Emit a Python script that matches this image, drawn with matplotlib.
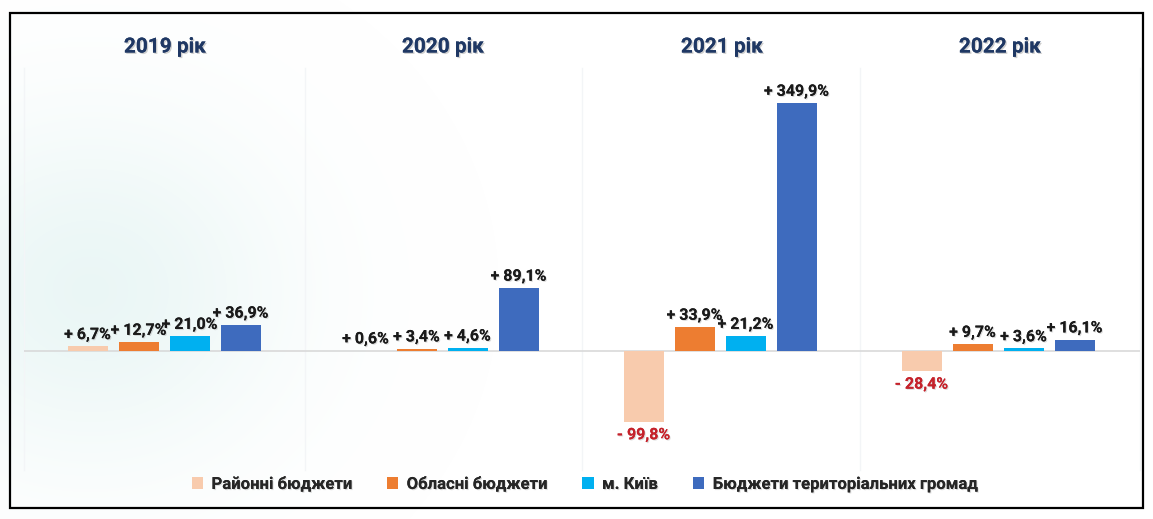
import numpy as np
import matplotlib.pyplot as plt
import matplotlib.patheffects as pe
from matplotlib.patches import Rectangle, Patch

plt.rcParams['font.family'] = ['Roboto', 'DejaVu Sans']

W, H = 1153, 519

years = ["2019 рік", "2020 рік", "2021 рік", "2022 рік"]
series = ["Районні бюджети", "Обласні бюджети", "м. Київ",
          "Бюджети територіальних громад"]
colors = ["#F8CBAD", "#ED7D31", "#00B0F0", "#3E6BBE"]

raion = [6.7, 0.6, -99.8, -28.4]
oblast = [12.7, 3.4, 33.9, 9.7]
kyiv = [21.0, 4.6, 21.2, 3.6]
hromady = [36.9, 89.1, 349.9, 16.1]
values = [raion, oblast, kyiv, hromady]


def px(x, y):
    # pixel position (from top-left) -> figure fraction
    return x / W, 1 - y / H


fig = plt.figure(figsize=(W / 100, H / 100), dpi=100)

# faint decorative haze in the background
bg = fig.add_axes([0, 0, 1, 1], zorder=0)
bg.set_xlim(0, W)
bg.set_ylim(H, 0)
bg.axis("off")
yy, xx = np.mgrid[0:H, 0:W]
haze = np.exp(-(((xx - 90) / 190.0) ** 2 + ((yy - 290) / 170.0) ** 2))
rgba = np.zeros((H, W, 4))
rgba[..., 0] = 0.80
rgba[..., 1] = 0.92
rgba[..., 2] = 0.91
rgba[..., 3] = 0.40 * haze
bg.imshow(rgba, extent=(0, W, H, 0), interpolation="bilinear")

# faint panel separators
for xs in [24, 305, 582, 860, 1140]:
    bg.plot([xs, xs], [68, 470], color="#F3F5F7", lw=1.0)

# bar area
left, top, right, bottom = 24, 80, 1140, 450
zero_y = 351
scale = 248 / 349.9  # px per percent
ax = fig.add_axes([left / W, 1 - bottom / H, (right - left) / W, (bottom - top) / H],
                  zorder=2)
ax.patch.set_alpha(0)
group_step = 278.0
x0 = (164 - left) / group_step
ax.set_xlim(-x0, -x0 + (right - left) / group_step)
ax.set_ylim(-(bottom - zero_y) / scale, (zero_y - top) / scale)
ax.axis("off")
ax.axhline(0, color="#D9D9D9", lw=1.2, zorder=1)

bar_step = 51 / group_step
bar_w = 40 / group_step
shadow = [pe.withSimplePatchShadow(offset=(0.8, -0.8), shadow_rgbFace="#999999", alpha=0.35),
          pe.Normal()]

groups = np.arange(len(years))
for i, (vals, col) in enumerate(zip(values, colors)):
    xs = groups + (i - 1.5) * bar_step
    ax.bar(xs, vals, width=bar_w, color=col, zorder=2, label=series[i])
    for x, v in zip(xs, vals):
        if v >= 0:
            txt = "+ " + f"{v:.1f}".replace(".", ",") + "%"
            ax.annotate(txt, (x, v), xytext=(0, 3), textcoords="offset points",
                        ha="center", va="bottom", fontsize=11.5, fontweight="bold",
                        color="#1A1A1A", path_effects=shadow, zorder=3)
        else:
            txt = "- " + f"{abs(v):.1f}".replace(".", ",") + "%"
            ax.annotate(txt, (x, v), xytext=(0, -4), textcoords="offset points",
                        ha="center", va="top", fontsize=11.5, fontweight="bold",
                        color="#C5222B", path_effects=shadow, zorder=3)

# year titles
title_shadow = [pe.withSimplePatchShadow(offset=(1, -1), shadow_rgbFace="#888888", alpha=0.4),
                pe.Normal()]
for cx, yr in zip([165, 443, 722, 1000], years):
    fig.text(*px(cx, 47), yr, ha="center", va="center", fontsize=15,
             fontweight="bold", color="#1F3864", path_effects=title_shadow, zorder=3)

# legend
handles = [Patch(facecolor=c, edgecolor="none") for c in colors]
leg = fig.legend(handles, series, loc="center", bbox_to_anchor=px(584, 484),
                 ncol=4, frameon=False, handlelength=0.7,
                 handleheight=0.7, handletextpad=0.5, columnspacing=2.1,
                 prop={"weight": "bold", "size": 12})
for t in leg.get_texts():
    t.set_color("#262626")
    t.set_path_effects(shadow)

# outer frame
fig.patches.append(Rectangle(px(10, 508), (1143 - 10) / W, (508 - 13) / H,
                             transform=fig.transFigure, fill=False,
                             edgecolor="black", lw=1.6, zorder=5))

fig.savefig("out.png", dpi=100)
